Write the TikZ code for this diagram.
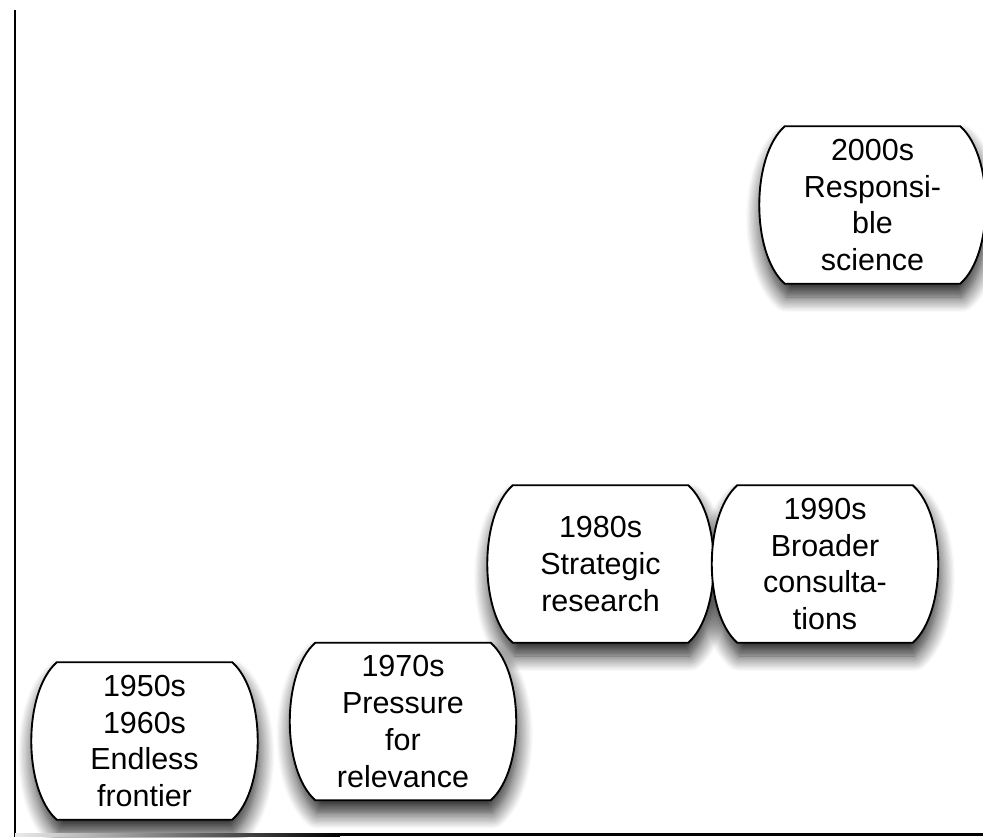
\documentclass[tikz,border=0pt]{standalone}
\usepackage{fontspec}
\setmainfont{Liberation Sans}
\usetikzlibrary{backgrounds,shadows.blur}

\tikzset{
  era/.style={rectangle, minimum width=5.25cm, minimum height=4.71cm, inner sep=0pt,
    align=center, font=\fontsize{26}{31.5}\selectfont},
  barrel/.style={insert path={(#1.north west) -- (#1.north east)
    .. controls ([shift={(34,30)}]#1.north east) and ([shift={(34,-30)}]#1.south east) .. (#1.south east)
    -- (#1.south west)
    .. controls ([shift={(-34,-30)}]#1.south west) and ([shift={(-34,30)}]#1.north west) .. (#1.north west)
    -- cycle}},
  era shadow/.style={blur shadow={shadow xshift=0.05cm, shadow yshift=-0.4cm,
    shadow blur radius=0.45cm, shadow opacity=85, shadow blur steps=12}},
  era border/.style={draw, line width=1.6pt, fill=white},
}

\begin{document}
\begin{tikzpicture}[x=0.03cm,y=-0.03cm]
    \useasboundingbox (0,0) rectangle (983,837);
    % axes
    \draw[line width=1.8pt] (15,10) -- (15,837);
    \shade[left color=black!8, right color=black] (15,833) rectangle (340,836);
    \fill (340,833) rectangle (983,836);
    % decades
    \node[era] (fifties) at (144.5,741) {1950s\\1960s\\Endless\\frontier};
    \node[era] (seventies) at (403,721.5) {1970s\\Pressure\\for\\relevance};
    \node[era] (eighties) at (600.5,564) {1980s\\Strategic\\research};
    \node[era] (nineties) at (825,564) {1990s\\Broader\\consulta-\\tions};
    \node[era] (noughties) at (872.5,205) {2000s\\Responsi-\\ble\\science};
    % barrel outlines behind the texts, shadows first
    \begin{scope}[on background layer]
        \foreach \n in {fifties,seventies,eighties,nineties,noughties}
            \path[era shadow, barrel=\n];
        \foreach \n in {fifties,seventies,eighties,nineties,noughties}
            \path[era border, barrel=\n];
    \end{scope}
\end{tikzpicture}
\end{document}
